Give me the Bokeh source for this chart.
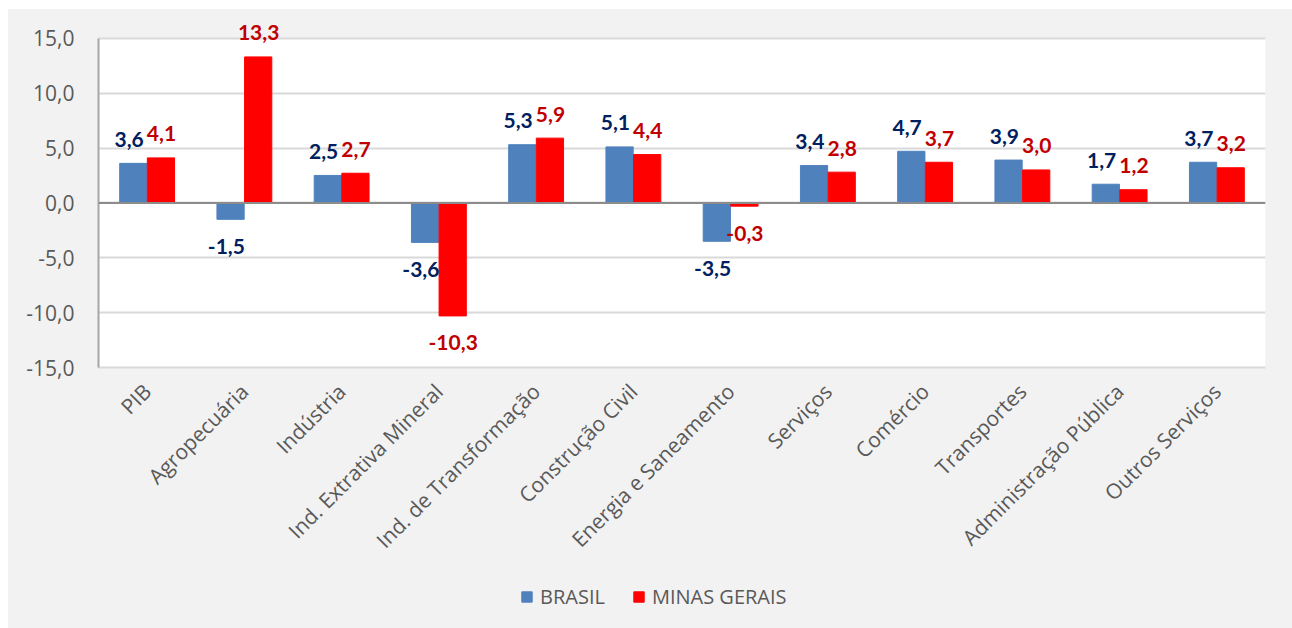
from bokeh.plotting import figure
from bokeh.models import (ColumnDataSource, FactorRange, Range1d, FixedTicker, Legend,
                          LegendItem, Span, BoxAnnotation, Spacer)
from bokeh.layouts import column, row
from bokeh.transform import dodge
from bokeh.core.properties import value
from bokeh.embed import file_html
from bokeh.resources import INLINE
import math

categories = ["PIB", "Agropecuária", "Indústria", "Ind. Extrativa Mineral",
              "Ind. de Transformação", "Construção Civil", "Energia e Saneamento",
              "Serviços", "Comércio", "Transportes", "Administração Pública",
              "Outros Serviços"]
brasil = [3.6, -1.5, 2.5, -3.6, 5.3, 5.1, -3.5, 3.4, 4.7, 3.9, 1.7, 3.7]
minas = [4.1, 13.3, 2.7, -10.3, 5.9, 4.4, -0.3, 2.8, 3.7, 3.0, 1.2, 3.2]
y_ticks = [-15, -10, -5, 0, 5, 10, 15]
series_names = ["BRASIL", "MINAS GERAIS"]
series_colors = ["#4f81bd", "#ff0000"]
label_colors = ["#002060", "#c00000"]

def fmt(v):
    return ("%.1f" % v).replace(".", ",")

src = ColumnDataSource(dict(
    cat=categories,
    br=brasil, mg=minas,
    br_lbl=[fmt(v) for v in brasil],
    mg_lbl=[fmt(v) for v in minas],
    br_off=[-24 if v >= 0 else 27 for v in brasil],
    mg_off=[-24 if v >= 0 else 27 for v in minas],
))

BG = "#f2f2f2"

p = figure(x_range=FactorRange(*categories, range_padding=0),
           y_range=Range1d(-15, 16.8),
           width=1284, height=566,
           output_backend="svg", toolbar_location=None,
           min_border_left=90, min_border_top=9, min_border_right=27,
           min_border_bottom=208)
p.x_range.range_padding = 0
p.border_fill_color = BG
p.background_fill_color = BG
p.outline_line_color = None

p.add_layout(BoxAnnotation(bottom=-15, top=15, fill_color="white", fill_alpha=1,
                           line_color=None, level="image"))

W = 0.28
p.vbar(x=dodge("cat", -0.142, range=p.x_range), top="br", bottom=0, width=W,
       source=src, fill_color=series_colors[0], line_color=series_colors[0])
p.vbar(x=dodge("cat", 0.142, range=p.x_range), top="mg", bottom=0, width=W,
       source=src, fill_color=series_colors[1], line_color=series_colors[1])

p.text(x=dodge("cat", -0.185, range=p.x_range), y="br", text="br_lbl", source=src,
       y_offset="br_off", text_align="center", text_baseline="alphabetic",
       text_font=value("Lato"), text_font_style="bold", text_font_size="21px",
       text_color=label_colors[0])
p.text(x=dodge("cat", 0.147, range=p.x_range), y="mg", text="mg_lbl", source=src,
       y_offset="mg_off", text_align="center", text_baseline="alphabetic",
       text_font=value("Lato"), text_font_style="bold", text_font_size="21px",
       text_color=label_colors[1])

p.add_layout(Span(location=0, dimension="width", line_color="#8c8c8c", line_width=2))

# axes
p.yaxis.ticker = FixedTicker(ticks=y_ticks)
p.yaxis.bounds = (-15, 15)
p.yaxis.major_label_overrides = {t: fmt(t) for t in y_ticks}
p.yaxis.major_tick_line_color = None
p.yaxis.minor_tick_line_color = None
p.yaxis.axis_line_color = "#a6a6a6"
p.yaxis.axis_line_width = 2
p.yaxis.major_label_text_font = "Open Sans"
p.yaxis.major_label_text_font_size = "21px"
p.yaxis.major_label_text_color = "#595959"
p.yaxis.major_label_standoff = 18

p.xaxis.axis_line_color = "#d9d9d9"
p.xaxis.axis_line_width = 2
p.xaxis.major_tick_line_color = None
p.xaxis.minor_tick_line_color = None
p.xaxis.major_label_orientation = math.pi / 4
p.xaxis.major_label_text_font = "Open Sans"
p.xaxis.major_label_text_font_size = "21px"
p.xaxis.major_label_text_color = "#595959"
p.xaxis.major_label_standoff = 14

p.xgrid.grid_line_color = None
p.ygrid.ticker = FixedTicker(ticks=y_ticks)
p.ygrid.grid_line_color = "#d9d9d9"
p.ygrid.grid_line_width = 2

# legend strip (separate figure, no axes, same ranges; its bar renderers are hidden)
q = figure(x_range=p.x_range, y_range=p.y_range, width=1284, height=53,
           output_backend="svg", toolbar_location=None,
           min_border_left=90, min_border_right=27, min_border_top=0, min_border_bottom=0)
q.axis.visible = False
q.grid.visible = False
q.border_fill_color = BG
q.background_fill_color = BG
q.outline_line_color = None
l1 = q.vbar(x=dodge("cat", -0.142, range=p.x_range), top="br", width=W, source=src,
            fill_color=series_colors[0], line_color=series_colors[0], visible=False)
l2 = q.vbar(x=dodge("cat", 0.142, range=p.x_range), top="mg", width=W, source=src,
            fill_color=series_colors[1], line_color=series_colors[1], visible=False)
legend = Legend(items=[LegendItem(label=series_names[0], renderers=[l1]),
                       LegendItem(label=series_names[1], renderers=[l2])],
                orientation="horizontal", location=(422, 18),
                background_fill_alpha=0, border_line_color=None,
                inactive_fill_alpha=0,
                label_text_font="Open Sans", label_text_font_size="20px",
                label_text_color="#595959", glyph_width=13, glyph_height=13,
                spacing=27, padding=0, margin=0, label_standoff=7)
q.add_layout(legend, "center")

inner = column(p, q, spacing=0, styles={"background-color": BG})
layout = column(Spacer(width=1292, height=9),
                row(Spacer(width=8, height=619), inner, spacing=0),
                spacing=0)
open("out.html", "w").write(file_html(layout, INLINE))
